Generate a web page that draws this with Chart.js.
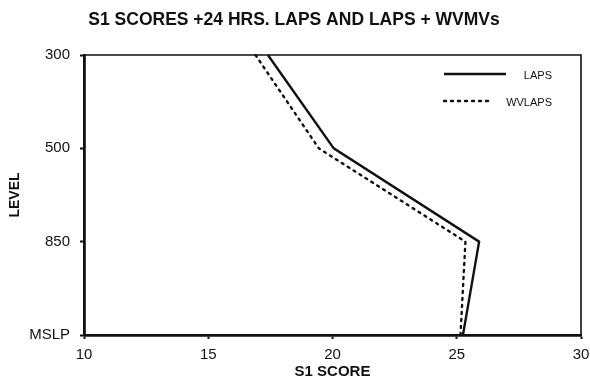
<!DOCTYPE html>
<html>
<head>
<meta charset="utf-8">
<script src="https://cdn.jsdelivr.net/npm/chart.js@4/dist/chart.umd.min.js"></script>
<style>
  html, body { margin: 0; padding: 0; background: #fff; }
  #wrap { width: 590px; height: 381px; }
</style>
</head>
<body>
<div id="wrap"><canvas id="c" width="590" height="381"></canvas></div>
<script>
// Pressure levels, top of the profile first
const levels = ['300', '500', '850', 'MSLP'];
// S1 scores at +24 hrs for each level
const lapsScores = [17.4, 20.05, 25.9, 25.25];
const wvlapsScores = [16.9, 19.45, 25.35, 25.15];
// Score axis tick values
const scoreTicks = [10, 15, 20, 25, 30];

const INK = '#111';
const FONT = '"Liberation Sans", Arial, sans-serif';

// Frame: thin top and right edges to close the plot box
const frame = {
  id: 'frame',
  afterDatasetsDraw(chart) {
    const { ctx, chartArea: a } = chart;
    ctx.save();
    ctx.strokeStyle = INK;
    ctx.lineWidth = 1.6;
    ctx.beginPath();
    ctx.moveTo(a.left, a.top);
    ctx.lineTo(a.right, a.top);
    ctx.lineTo(a.right, a.bottom);
    ctx.stroke();
    ctx.restore();
  }
};

// Legend drawn inside the plot, line sample followed by its label
const insideLegend = {
  id: 'insideLegend',
  afterDraw(chart) {
    const { ctx, chartArea: a } = chart;
    const rows = [
      { y: a.top + 19, x0: a.right - 137, x1: a.right - 75 },
      { y: a.top + 46, x0: a.right - 137, x1: a.right - 88 }
    ];
    ctx.save();
    chart.data.datasets.forEach((ds, i) => {
      const r = rows[i];
      ctx.strokeStyle = ds.borderColor;
      ctx.lineWidth = ds.borderWidth;
      ctx.lineCap = ds.borderCapStyle || 'butt';
      ctx.setLineDash(ds.borderDash || []);
      ctx.beginPath();
      ctx.moveTo(r.x0, r.y);
      ctx.lineTo(r.x1, r.y);
      ctx.stroke();
      ctx.setLineDash([]);
      ctx.fillStyle = INK;
      ctx.font = '11px ' + FONT;
      ctx.textAlign = 'right';
      ctx.textBaseline = 'middle';
      ctx.fillText(ds.label, a.right - 29, r.y + 2);
    });
    ctx.restore();
  }
};

new Chart(document.getElementById('c'), {
  type: 'line',
  data: {
    labels: levels,
    datasets: [
      {
        label: 'LAPS',
        data: lapsScores,
        borderColor: INK,
        borderWidth: 2.4,
        pointRadius: 0,
        tension: 0,
        fill: false
      },
      {
        label: 'WVLAPS',
        data: wvlapsScores,
        borderColor: INK,
        borderWidth: 2.4,
        borderDash: [2, 5],
        borderCapStyle: 'round',
        pointRadius: 0,
        tension: 0,
        fill: false
      }
    ]
  },
  plugins: [frame, insideLegend],
  options: {
    indexAxis: 'y',
    responsive: false,
    animation: false,
    layout: { padding: { left: 7, right: 9, top: 0, bottom: 0 } },
    plugins: {
      legend: { display: false },
      tooltip: { enabled: false },
      title: {
        display: true,
        text: 'S1 SCORES +24 HRS. LAPS AND LAPS + WVMVs',
        color: INK,
        font: { family: FONT, size: 17.5, weight: 'bold' },
        padding: { top: 10, bottom: 24 }
      }
    },
    scales: {
      x: {
        type: 'linear',
        min: 10,
        max: 30,
        afterBuildTicks(scale) {
          scale.ticks = scoreTicks.map(v => ({ value: v }));
        },
        afterFit(scale) {
          scale.height = 46;
          scale.paddingLeft = 0;
          scale.paddingRight = 0;
        },
        border: { display: true, color: INK, width: 2.8 },
        grid: {
          display: true,
          drawOnChartArea: false,
          drawTicks: true,
          tickLength: 4,
          tickWidth: 2,
          tickColor: INK
        },
        ticks: {
          color: INK,
          padding: 7,
          font: { family: FONT, size: 15 }
        },
        title: {
          display: true,
          text: 'S1 SCORE',
          color: INK,
          font: { family: FONT, size: 15, weight: 'bold' },
          padding: { top: 0, bottom: 0 }
        }
      },
      y: {
        type: 'category',
        offset: false,
        afterFit(scale) { scale.width = 77; },
        border: { display: true, color: INK, width: 2.8 },
        grid: {
          display: true,
          drawOnChartArea: false,
          drawTicks: true,
          tickLength: 4,
          tickWidth: 2,
          tickColor: INK
        },
        ticks: {
          color: INK,
          padding: 10,
          font: { family: FONT, size: 15 }
        },
        title: {
          display: true,
          text: 'LEVEL',
          color: INK,
          font: { family: FONT, size: 14, weight: 'bold' },
          padding: { top: 0, bottom: 10 }
        }
      }
    }
  }
});
</script>
</body>
</html>
